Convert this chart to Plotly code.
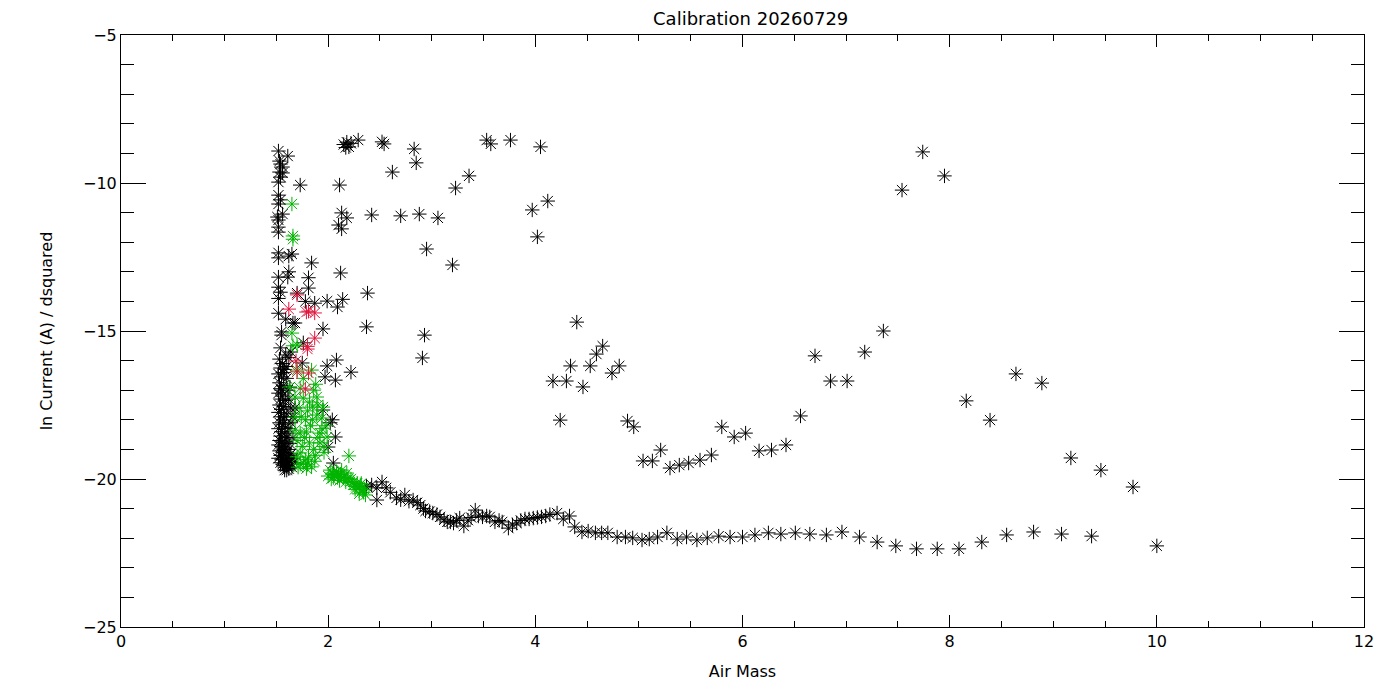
import plotly.graph_objects as go

# ---- black points (all observations) ----
black_x = [
    # dense column near airmass 1.5
    1.52, 1.61, 1.53, 1.54, 1.56, 1.53, 1.56, 1.54, 1.52,
    1.52, 1.54, 1.52, 1.56, 1.51, 1.52, 1.52, 1.52,
    1.52, 1.52, 1.62, 1.65, 1.52, 1.62, 1.61, 1.52, 1.54, 1.52,
    1.52, 1.59, 1.66, 1.55, 1.55, 1.54, 1.59, 1.64,
    1.53, 1.56, 1.54, 1.58, 1.52, 1.55, 1.60, 1.53, 1.57, 1.54, 1.61, 1.52,
    1.56, 1.54, 1.59, 1.53, 1.57, 1.55, 1.52, 1.60, 1.54, 1.57, 1.53, 1.56,
    1.59, 1.52, 1.55, 1.58, 1.54, 1.61, 1.53, 1.56, 1.59, 1.52, 1.55, 1.58,
    1.62, 1.53, 1.56, 1.60, 1.64, 1.54, 1.57, 1.61, 1.52, 1.55, 1.59, 1.63,
    1.56, 1.60, 1.58, 1.62, 1.60, 1.65, 1.66, 1.63, 1.62, 1.64, 1.63,
    1.62, 1.65, 1.67, 1.58, 1.54, 1.57, 1.63, 1.66, 1.64, 1.66, 1.62, 1.60,
    1.62, 1.57, 1.55, 1.58, 1.60, 1.57,
    # scatter just right of the column
    1.70, 1.81, 1.81, 1.84, 1.73, 2.11, 2.13, 2.18, 2.10, 2.13, 2.12, 1.78,
    1.87, 1.99, 2.09, 2.14, 1.95, 2.08, 1.99, 1.97, 2.07, 1.76, 1.75, 1.68,
    1.95, 2.02, 2.07, 2.00, 2.05, 2.04, 1.68, 2.42, 2.38, 2.37, 2.22,
    # cluster near -8.6
    2.15, 2.18, 2.20, 2.22, 2.17, 2.29, 2.52, 2.54,
    # sparse upper points
    2.62, 2.70, 2.83, 2.85, 2.88, 2.95, 2.93, 2.91, 3.06, 3.20, 3.23, 3.36,
    3.53, 3.57, 3.76, 3.97, 4.02, 4.05, 4.12,
    4.17, 4.24, 4.30, 4.34, 4.40, 4.46, 4.53, 4.59, 4.65, 4.74, 4.81, 4.89,
    4.95, 5.04, 5.13, 5.21, 5.30, 5.39, 5.48, 5.59, 5.70, 5.80, 5.92, 6.03,
    6.16, 6.28, 6.42, 6.56, 6.70, 6.85, 7.01, 7.18, 7.36, 7.54, 7.74, 7.95,
    8.16, 8.39, 8.64, 8.89, 9.17, 9.46, 9.77,
    # lower band
    2.37, 2.42, 2.47, 2.52, 2.56, 2.47, 2.60, 2.66, 2.70, 2.74, 2.78, 2.82,
    2.86, 2.89, 2.92, 2.94, 2.98, 3.01, 3.05, 3.08, 3.12, 3.15, 3.18, 3.21,
    3.24, 3.27, 3.31, 3.35, 3.38, 3.42, 3.45, 3.49, 3.53, 3.56, 3.61, 3.65,
    3.68, 3.74, 3.78, 3.82, 3.86, 3.90, 3.94, 3.98, 4.02, 4.06, 4.10, 4.14,
    4.21, 4.27, 4.33, 4.38, 4.45, 4.51, 4.58, 4.64, 4.70, 4.79, 4.87, 4.94,
    5.03, 5.10, 5.18, 5.27, 5.37, 5.46, 5.56, 5.66, 5.77, 5.88, 6.00, 6.12,
    6.25, 6.37, 6.51, 6.65, 6.81, 6.96, 7.13, 7.30, 7.48, 7.68, 7.88, 8.09,
    8.31, 8.55, 8.81, 9.08, 9.37, 10.00,
]
black_y = [
    -8.92, -9.09, -9.26, -9.36, -9.46, -9.63, -9.66, -9.80, -9.97,
    -10.41, -10.57, -10.71, -11.05, -11.15, -11.25, -11.49, -11.66,
    -12.36, -12.53, -12.47, -12.40, -13.18, -13.00, -13.18, -13.52, -13.69, -13.90,
    -14.40, -14.60, -14.73, -15.03, -15.14, -15.57, -15.81, -15.71,
    -15.95, -16.10, -16.25, -16.30, -16.45, -16.55, -16.60, -16.75, -16.85, -16.95, -17.00, -17.10,
    -17.20, -17.30, -17.35, -17.50, -17.55, -17.65, -17.75, -17.80, -17.90, -18.00, -18.10, -18.15,
    -18.25, -18.30, -18.40, -18.45, -18.55, -18.60, -18.70, -18.75, -18.80, -18.85, -18.90, -18.95,
    -19.00, -19.05, -19.10, -19.12, -19.15, -19.20, -19.25, -19.30, -19.30, -19.35, -19.40, -19.42,
    -19.50, -19.55, -19.60, -19.65, -19.70, -19.50, -19.30, -18.80, -18.30, -17.60, -16.90,
    -19.50, -19.60, -19.45, -19.70, -19.45, -19.00, -19.20, -18.60, -18.10, -17.90, -17.30, -16.20,
    -15.90, -16.40, -17.00, -17.90, -18.60, -19.55,
    -13.72, -13.55, -13.20, -12.70, -10.07, -10.07, -11.01, -11.18, -11.42, -11.55, -13.04, -14.00,
    -14.06, -13.99, -14.19, -13.93, -14.93, -15.98, -16.18, -16.55, -16.66, -15.40, -16.08, -17.60,
    -17.67, -18.10, -18.58, -18.92, -19.46, -18.00, -14.73, -11.08, -13.72, -14.86, -16.39,
    -8.70, -8.62, -8.78, -8.66, -8.80, -8.55, -8.61, -8.68,
    -9.63, -11.11, -8.85, -9.32, -11.05, -12.23, -15.14, -15.91, -11.18, -12.77, -10.17, -9.76,
    -8.55, -8.68, -8.55, -10.91, -11.82, -8.78, -10.61,
    -16.69, -18.01, -16.69, -16.18, -14.70, -16.89, -16.18, -15.78, -15.51, -16.42, -16.18, -18.04,
    -18.24, -19.39, -19.39, -19.02, -19.63, -19.53, -19.46, -19.36, -19.19, -18.24, -18.58, -18.45,
    -19.05, -19.02, -18.85, -17.87, -15.84, -16.69, -16.69, -15.71, -15.00, -10.24, -8.95, -9.76,
    -17.36, -18.01, -16.45, -16.76, -19.29, -19.70, -20.27,
    -20.25, -20.20, -20.30, -20.10, -20.30, -20.71, -20.45, -20.64, -20.70, -20.54, -20.75, -20.71,
    -20.80, -20.88, -21.00, -21.08, -21.10, -21.15, -21.20, -21.28, -21.38, -21.45, -21.45, -21.49,
    -21.40, -21.32, -21.59, -21.39, -21.30, -21.05, -21.25, -21.28, -21.25, -21.28, -21.45, -21.40,
    -21.45, -21.66, -21.55, -21.49, -21.40, -21.35, -21.35, -21.32, -21.30, -21.28, -21.25, -21.20,
    -21.15, -21.35, -21.25, -21.62, -21.79, -21.76, -21.82, -21.82, -21.82, -21.96, -21.96, -21.99,
    -22.06, -22.03, -21.96, -21.82, -22.03, -21.96, -22.06, -21.99, -21.93, -21.96, -21.96, -21.89,
    -21.82, -21.86, -21.82, -21.86, -21.89, -21.79, -21.96, -22.13, -22.26, -22.36, -22.36, -22.36,
    -22.13, -21.89, -21.79, -21.86, -21.93, -22.26,
]

# ---- green points ----
green_x = [
    1.65, 1.66, 1.66,
    1.65, 1.70, 1.66, 1.70, 1.84, 1.63, 1.73, 1.86, 1.89, 1.68, 1.76, 1.85,
    1.95, 1.89, 1.94, 1.68, 1.78, 1.68, 1.79, 1.92, 1.99, 1.73, 1.82, 1.92,
    1.73, 1.81, 1.76, 1.84, 1.73, 1.78, 1.70, 1.87, 1.96, 1.90, 1.72, 1.80,
    1.75, 1.86, 1.80, 1.88, 1.83, 1.70, 1.77, 1.94, 1.96, 1.98, 1.71, 1.79,
    1.76, 1.82, 1.74, 1.85, 1.90, 1.88,
    2.20, 2.04, 2.10, 2.18, 2.05, 2.13, 2.08, 2.00, 2.15, 2.21, 2.28, 2.25,
    2.31, 2.33, 2.36, 2.34, 2.22,
    2.02, 2.06, 2.09, 2.12, 2.16, 2.19, 2.24, 2.27, 2.30, 2.32, 2.35, 2.03,
    2.11, 2.17, 2.26, 2.30,
]
green_y = [
    -10.71, -11.79, -11.90,
    -15.07, -15.47, -15.50, -16.32, -16.32, -16.89, -16.93, -17.00, -17.23, -17.23, -17.27, -17.57,
    -17.57, -17.84, -17.94, -17.91, -18.00, -18.35, -18.41, -18.45, -18.58, -18.45, -18.78, -18.78,
    -19.12, -19.26, -19.46, -19.59, -19.50, -19.35, -19.25, -19.40, -18.90, -18.60, -17.60, -17.70,
    -18.90, -19.00, -19.50, -19.20, -18.20, -18.70, -18.60, -18.30, -19.10, -18.20, -19.60, -19.65,
    -16.60, -17.40, -17.90, -18.00, -17.50, -16.80,
    -19.22, -19.80, -19.86, -19.80, -19.95, -19.70, -19.75, -19.90, -19.95, -20.10, -20.14, -20.20,
    -20.20, -20.37, -20.54, -20.45, -20.00,
    -19.70, -19.85, -19.95, -19.85, -19.90, -20.00, -20.10, -20.25, -20.30, -20.15, -20.35, -20.00,
    -20.05, -20.10, -20.35, -20.50,
]

# ---- red points ----
red_x = [1.70, 1.62, 1.79, 1.87, 1.81, 1.87, 1.80, 1.80, 1.69, 1.70, 1.81, 1.78]
red_y = [-13.78, -14.26, -14.36, -14.39, -14.33, -15.24, -15.61, -15.52, -16.01, -16.38, -16.42, -16.96]

FONT = "DejaVu Sans"

fig = go.Figure()
for xs, ys, col in [(black_x, black_y, "black"),
                    (green_x, green_y, "rgb(0,180,0)"),
                    (red_x, red_y, "rgb(225,20,60)")]:
    fig.add_trace(go.Scatter(
        x=xs, y=ys, mode="markers",
        marker=dict(symbol="asterisk-open", size=12, color=col,
                    line=dict(color=col, width=1)),
        showlegend=False, hoverinfo="skip"))

axis_common = dict(
    showline=True, linecolor="black", linewidth=1, mirror="ticks",
    ticks="inside", tickcolor="black", tickwidth=1,
    showgrid=False, zeroline=False,
    tickfont=dict(family=FONT, size=16, color="black"),
)

fig.update_xaxes(range=[0, 12], dtick=2, ticklen=12,
                 minor=dict(dtick=0.5, ticks="inside", ticklen=6, tickcolor="black", tickwidth=1, showgrid=False),
                 title=dict(text="Air Mass", font=dict(family=FONT, size=16, color="black"), standoff=15),
                 **axis_common)
fig.update_yaxes(range=[-25, -5], dtick=5, ticklen=25,
                 minor=dict(dtick=1, ticks="inside", ticklen=13, tickcolor="black", tickwidth=1, showgrid=False),
                 title=dict(text="ln Current (A) / dsquared", font=dict(family=FONT, size=16, color="black"), standoff=26),
                 **axis_common)

# the page puts the figure 8px in from the corner, so margins are shifted to match
fig.update_layout(
    width=1400, height=700,
    margin=dict(l=113, r=44, t=27, b=81),
    paper_bgcolor="white", plot_bgcolor="white",
    title=dict(text="Calibration 20260729", x=0.5305, xanchor="center", y=0.985, yanchor="middle",
               font=dict(family=FONT, size=18, color="black")),
)

fig.write_html("out.html")
